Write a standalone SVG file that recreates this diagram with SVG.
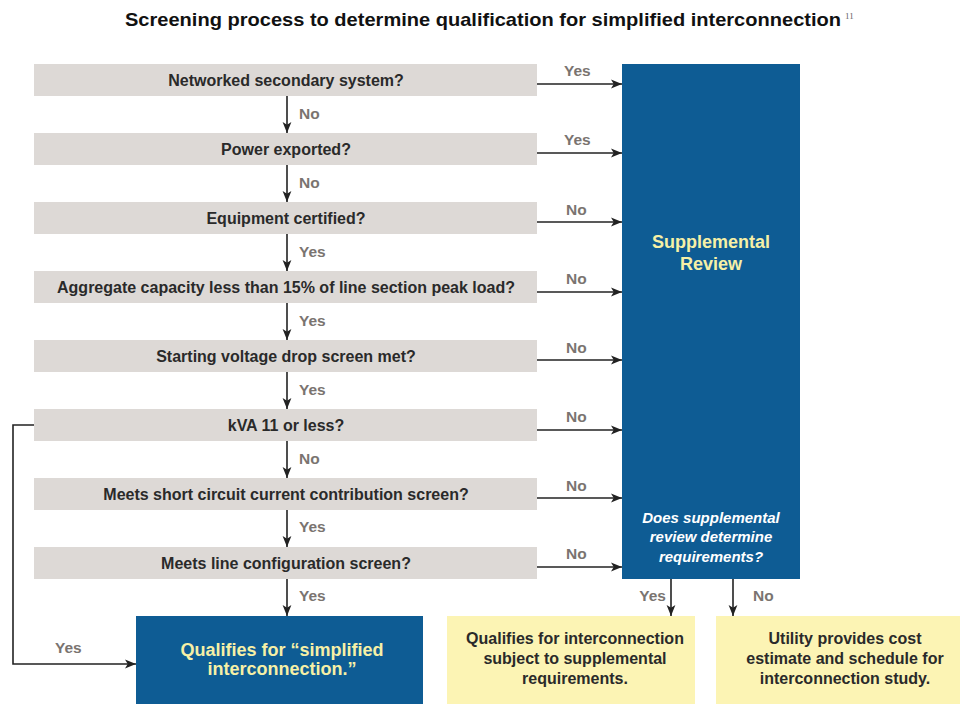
<svg xmlns="http://www.w3.org/2000/svg" width="960" height="705" viewBox="0 0 960 705">
  <style>
    .title { font-family: "Liberation Sans", Arial, sans-serif; font-weight: bold; font-size: 19px; fill: #111; }
    .q { fill: #DDD9D6; }
    .qt { font-family: "Liberation Sans", Arial, sans-serif; font-weight: bold; font-size: 16px; fill: #2a2a2a; text-anchor: middle; }
    .blue { fill: #0E5C94; }
    .bt { font-family: "Liberation Sans", Arial, sans-serif; font-weight: bold; font-size: 18px; fill: #F6F0A6; text-anchor: middle; }
    .bi { font-family: "Liberation Sans", Arial, sans-serif; font-weight: bold; font-style: italic; font-size: 15px; fill: #ffffff; text-anchor: middle; }
    .yel { fill: #FCF4B4; }
    .yt { font-family: "Liberation Sans", Arial, sans-serif; font-weight: bold; font-size: 16px; fill: #2a2a2a; text-anchor: middle; }
    .lbl { font-family: "Liberation Sans", Arial, sans-serif; font-weight: bold; font-size: 15.5px; fill: #7A7470; }
    .conn { stroke: #222; stroke-width: 1.6; fill: none; marker-end: url(#arr); }
  </style>
  <defs>
    <marker id="arr" viewBox="0 0 10 10" refX="10" refY="5" markerWidth="11" markerHeight="11" markerUnits="userSpaceOnUse" orient="auto">
      <path d="M0,1 L10,5 L0,9 L2.5,5 Z" fill="#222"/>
    </marker>
  </defs>
  <rect width="960" height="705" fill="#ffffff"/>

  <text class="title" x="125" y="26" textLength="716" lengthAdjust="spacingAndGlyphs">Screening process to determine qualification for simplified interconnection</text>
  <text x="845" y="19" font-family="Liberation Serif, serif" font-size="9" fill="#666">11</text>

  <!-- screening questions -->
  <g id="q1"><rect class="q" x="34" y="64" width="503" height="32"/><text class="qt" x="286" y="86">Networked secondary system?</text></g>
  <g id="q2"><rect class="q" x="34" y="133" width="503" height="32"/><text class="qt" x="286" y="155">Power exported?</text></g>
  <g id="q3"><rect class="q" x="34" y="202" width="503" height="32"/><text class="qt" x="286" y="224">Equipment certified?</text></g>
  <g id="q4"><rect class="q" x="34" y="271" width="503" height="32"/><text class="qt" x="286" y="293">Aggregate capacity less than 15% of line section peak load?</text></g>
  <g id="q5"><rect class="q" x="34" y="340" width="503" height="32"/><text class="qt" x="286" y="362">Starting voltage drop screen met?</text></g>
  <g id="q6"><rect class="q" x="34" y="409" width="503" height="32"/><text class="qt" x="286" y="431">kVA 11 or less?</text></g>
  <g id="q7"><rect class="q" x="34" y="478" width="503" height="32"/><text class="qt" x="286" y="500">Meets short circuit current contribution screen?</text></g>
  <g id="q8"><rect class="q" x="34" y="547" width="503" height="32"/><text class="qt" x="286" y="569">Meets line configuration screen?</text></g>

  <!-- supplemental review -->
  <g id="review">
    <rect class="blue" x="622" y="64" width="178" height="515"/>
    <text class="bt" x="711" y="248">Supplemental</text>
    <text class="bt" x="711" y="270">Review</text>
    <text class="bi" x="711" y="523">Does supplemental</text>
    <text class="bi" x="711" y="542">review determine</text>
    <text class="bi" x="711" y="562">requirements?</text>
  </g>

  <!-- outcomes -->
  <g id="simplified">
    <rect class="blue" x="136" y="616" width="287" height="88"/>
    <text class="bt" x="282" y="656" font-size="16.5">Qualifies for “simplified</text>
    <text class="bt" x="282" y="675" font-size="16.5">interconnection.”</text>
  </g>
  <g id="supplemental-req">
    <rect class="yel" x="447" y="616" width="248" height="88"/>
    <text class="yt" x="575" y="644">Qualifies for interconnection</text>
    <text class="yt" x="575" y="664">subject to supplemental</text>
    <text class="yt" x="575" y="684">requirements.</text>
  </g>
  <g id="study">
    <rect class="yel" x="716" y="616" width="244" height="88"/>
    <text class="yt" x="845" y="644">Utility provides cost</text>
    <text class="yt" x="845" y="664">estimate and schedule for</text>
    <text class="yt" x="845" y="684">interconnection study.</text>
  </g>

  <!-- connectors -->
  <g id="connectors">
    <path class="conn" d="M287,96 V133"/>
    <path class="conn" d="M287,165 V202"/>
    <path class="conn" d="M287,234 V271"/>
    <path class="conn" d="M287,303 V340"/>
    <path class="conn" d="M287,372 V409"/>
    <path class="conn" d="M287,441 V478"/>
    <path class="conn" d="M287,510 V547"/>
    <path class="conn" d="M287,579 V616"/>

    <path class="conn" d="M537,84 H622"/>
    <path class="conn" d="M537,153 H622"/>
    <path class="conn" d="M537,222 H622"/>
    <path class="conn" d="M537,292 H622"/>
    <path class="conn" d="M537,360 H622"/>
    <path class="conn" d="M537,430 H622"/>
    <path class="conn" d="M537,498 H622"/>
    <path class="conn" d="M537,567 H622"/>

    <path class="conn" d="M34,425 H13 V664 H136"/>
    <path class="conn" d="M671,579 V616"/>
    <path class="conn" d="M733,579 V616"/>
  </g>

  <!-- branch labels -->
  <g id="labels">
    <text class="lbl" x="299" y="119">No</text>
    <text class="lbl" x="299" y="188">No</text>
    <text class="lbl" x="299" y="257">Yes</text>
    <text class="lbl" x="299" y="326">Yes</text>
    <text class="lbl" x="299" y="395">Yes</text>
    <text class="lbl" x="299" y="464">No</text>
    <text class="lbl" x="299" y="532">Yes</text>
    <text class="lbl" x="299" y="601">Yes</text>

    <text class="lbl" x="564" y="76">Yes</text>
    <text class="lbl" x="564" y="145">Yes</text>
    <text class="lbl" x="566" y="215">No</text>
    <text class="lbl" x="566" y="284">No</text>
    <text class="lbl" x="566" y="353">No</text>
    <text class="lbl" x="566" y="422">No</text>
    <text class="lbl" x="566" y="491">No</text>
    <text class="lbl" x="566" y="559">No</text>

    <text class="lbl" x="55" y="653">Yes</text>
    <text class="lbl" x="666" y="601" text-anchor="end">Yes</text>
    <text class="lbl" x="753" y="601">No</text>
  </g>
</svg>
